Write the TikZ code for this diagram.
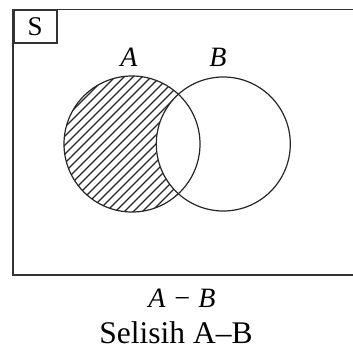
\documentclass[tikz,border=0pt]{standalone}
\usepackage{fontspec}
\setmainfont{Liberation Serif}
\begin{document}
\begin{tikzpicture}[x=1pt,y=-1pt,
  frame/.style={draw=black!80, line width=1.8pt},
  setcircle/.style={circle, draw=black!85, line width=1.2pt, minimum size=136pt, inner sep=0pt},
  hatch/.style={draw=black!85, line width=1.2pt},
  lbl/.style={font=\fontsize{28}{28}\selectfont\itshape, inner sep=0pt}]
\useasboundingbox (0,0) rectangle (353,352);
% universal set frame (right edge cut off)
\draw[frame] (360,9.5) -- (12.7,9.5) -- (12.7,275) -- (360,275);
\node[frame, minimum width=43pt, minimum height=33pt, inner sep=0pt, anchor=north west,
  font=\fontsize{27}{27}\selectfont] (S) at (12.7,9.5) {S};
% hatching of A - B
\begin{scope}
  \clip (132,144) circle (68);
  \foreach \k in {-300,-291,...,300} {
    \draw[hatch] (132+\k-120,144+120) -- (132+\k+120,144-120);
  }
  \fill[white] (223.3,144) circle (67.2);
\end{scope}
\node[setcircle] (A) at (132,144) {};
\node[setcircle, minimum size=134pt] (B) at (223.3,144) {};
\node[lbl] (la) at (129,57) {A};
\node[lbl] (lb) at (218,57) {B};
\node[lbl] (diff) at (182,298) {A − B};
\node[font=\fontsize{31.5}{31.5}\selectfont, inner sep=0pt] (cap) at (176,333) {Selisih A–B};
\end{tikzpicture}
\end{document}
